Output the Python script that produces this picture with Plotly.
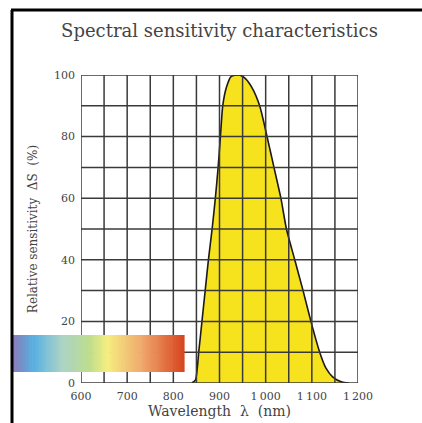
import plotly.graph_objects as go

# data
wavelength = [840, 848, 855, 862, 869, 876, 884, 891, 897, 902, 907, 915, 925, 943,
              955, 970, 987, 1003, 1018, 1033, 1045, 1063, 1081, 1098, 1117, 1130,
              1145, 1165, 1180]
sensitivity = [0, 1, 10, 20, 30, 40, 50, 60, 70, 80, 90, 96, 99.5, 100,
               99, 96, 90, 80, 70, 60, 50, 40, 30, 20, 10, 5, 2, 0.3, 0]
x_ticks = [600, 700, 800, 900, 1000, 1100, 1200]
x_tick_text = ["600", "700", "800", "900", "1\u2009000", "1\u2009100", "1\u2009200"]
y_ticks = [0, 20, 40, 60, 80, 100]
x_grid = list(range(600, 1201, 50))
y_grid = list(range(0, 101, 10))
spectrum_stops = [(0.0, (138, 122, 184)), (0.12, (88, 176, 226)), (0.28, (170, 210, 200)),
                  (0.45, (190, 222, 140)), (0.55, (245, 238, 128)), (0.75, (240, 170, 110)),
                  (1.0, (215, 68, 30))]

W, H = 422, 423
L, R, T, B = 81, 64, 75, 40
pw, ph = W - L - R, H - T - B

fig = go.Figure()
fig.add_trace(go.Scatter(x=wavelength, y=sensitivity, mode="lines",
                         line=dict(color="#1a1a1a", width=1.6, shape="spline", smoothing=0.6),
                         fill="tozeroy", fillcolor="#f7e21e", hoverinfo="skip"))

shapes = []
for gx in x_grid:
    shapes.append(dict(type="line", xref="x", yref="y", x0=gx, x1=gx, y0=0, y1=100,
                       line=dict(color="#3a3a3a", width=1.5), layer="above"))
for gy in y_grid:
    shapes.append(dict(type="line", xref="x", yref="y", x0=600, x1=1200, y0=gy, y1=gy,
                       line=dict(color="#3a3a3a", width=1.5), layer="above"))

def px2paper_x(p):
    return (p - L) / pw

def px2paper_y(p):
    return (H - B - p) / ph

def interp(t):
    for i in range(len(spectrum_stops) - 1):
        t0, c0 = spectrum_stops[i]
        t1, c1 = spectrum_stops[i + 1]
        if t0 <= t <= t1:
            f = (t - t0) / (t1 - t0)
            return "rgb(%d,%d,%d)" % tuple(round(c0[k] + f * (c1[k] - c0[k])) for k in range(3))
    return "rgb(%d,%d,%d)" % spectrum_stops[-1][1]

bx0, bx1, by0, by1 = 13, 184, 335, 372
n = 80
for i in range(n):
    a = bx0 + (bx1 - bx0) * i / n
    b = bx0 + (bx1 - bx0) * (i + 1) / n + 0.6
    shapes.append(dict(type="rect", xref="paper", yref="paper",
                       x0=px2paper_x(a), x1=px2paper_x(b),
                       y0=px2paper_y(by1), y1=px2paper_y(by0),
                       fillcolor=interp((i + 0.5) / n), line=dict(width=0), layer="above"))

# frame lines (left and top)
shapes.append(dict(type="line", xref="paper", yref="paper",
                   x0=px2paper_x(12), x1=px2paper_x(12), y0=px2paper_y(10), y1=px2paper_y(H + 5),
                   line=dict(color="black", width=3), layer="above"))
shapes.append(dict(type="line", xref="paper", yref="paper",
                   x0=px2paper_x(11), x1=px2paper_x(W + 5), y0=px2paper_y(10), y1=px2paper_y(10),
                   line=dict(color="black", width=3), layer="above"))

font = "DejaVu Serif, serif"
fig.update_layout(
    width=W, height=H, margin=dict(l=L, r=R, t=T, b=B, autoexpand=False),
    paper_bgcolor="white", plot_bgcolor="white", showlegend=False,
    title=dict(text="Spectral sensitivity characteristics", x=0.5, xanchor="center",
               xref="paper", y=1 - 31 / H, yanchor="middle",
               font=dict(family=font, size=18, color="#444")),
    shapes=shapes,
    xaxis=dict(range=[600, 1200], tickvals=x_ticks, ticktext=x_tick_text, showgrid=False,
               zeroline=False, showline=False, ticks="", ticklen=0, ticklabelstandoff=5,
               automargin=False,
               tickfont=dict(family=font, size=11, color="#444"),
               title=dict(text="Wavelength  \u03bb  (nm)", standoff=2,
                          font=dict(family=font, size=14, color="#444"))),
    yaxis=dict(range=[0, 100], tickvals=y_ticks, showgrid=False, zeroline=False,
               showline=False, ticks="", ticklen=0, ticklabelstandoff=5,
               automargin=False,
               tickfont=dict(family=font, size=11, color="#444"),
               title=dict(text="Relative sensitivity  \u0394S  (%)", standoff=13,
                          font=dict(family=font, size=12, color="#444"))),
)
fig.write_html("out.html", config={"displayModeBar": False},
               post_script="document.body.style.margin='0';")
